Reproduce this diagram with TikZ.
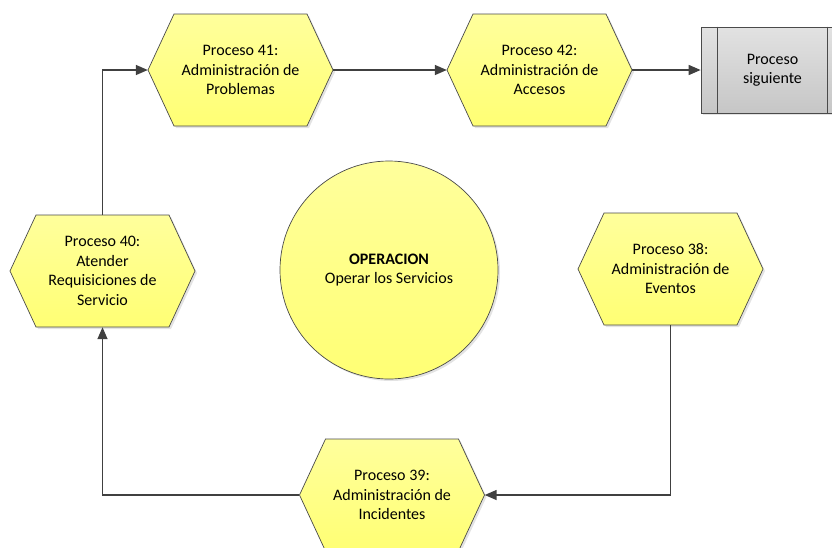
\documentclass[tikz,border=0pt]{standalone}
\usepackage{fontspec}
\setmainfont{Carlito}
\usetikzlibrary{arrows.meta,calc,shadows}

\definecolor{yeltop}{HTML}{FFFF9C}
\definecolor{yelbot}{HTML}{FFFF74}
\definecolor{shapeline}{HTML}{4A4A4A}
\definecolor{conn}{HTML}{404040}
\definecolor{greytop}{HTML}{E2E2E2}
\definecolor{greybot}{HTML}{C6C6C6}

\tikzset{
  softshadow/.style={drop shadow={opacity=0.22, shadow xshift=2pt, shadow yshift=-2pt}},
  hexbody/.style={top color=yeltop, bottom color=yelbot, draw=shapeline, line width=0.7pt, softshadow},
  proclabel/.style={align=center, font=\fontsize{16}{19.5}\selectfont,
    minimum width=185pt, minimum height=112pt, inner sep=0pt},
  opcircle/.style={circle, minimum size=218pt, inner sep=0pt, align=center,
    top color=yeltop, bottom color=yelbot, draw=shapeline, line width=0.7pt,
    font=\fontsize{16}{19.5}\selectfont, softshadow},
  nextbox/.style={rectangle, minimum width=143pt, minimum height=86pt, inner sep=0pt, align=center,
    top color=greytop, bottom color=greybot, draw=shapeline, line width=0.7pt,
    font=\fontsize{16}{19.5}\selectfont, softshadow},
  flow/.style={draw=conn, line width=1.5pt, -{Triangle[length=12pt,width=10pt]}},
}

% hexagonal process: name, centre x, centre y, label
\newcommand\hexproc[4]{%
  \path[hexbody] (#2-92.5,#3) -- ++(26,-56) -- ++(133,0) -- ++(26,56)
     -- ++(-26,56) -- ++(-133,0) -- cycle;
  \node[proclabel] (#1) at (#2,#3) {#4};
}

\begin{document}
\begin{tikzpicture}[x=1pt,y=-1pt]
  \useasboundingbox (0,0) rectangle (832,547);
  \clip (0,0) rectangle (832,547);

  \hexproc{p41}{240.5}{70}{Proceso 41:\\Administración de\\Problemas}
  \hexproc{p42}{539.5}{70}{Proceso 42:\\Administración de\\Accesos}
  \hexproc{p40}{102.5}{271}{Proceso 40:\\Atender\\Requisiciones de\\Servicio}
  \hexproc{p38}{670.5}{269}{Proceso 38:\\Administración de\\Eventos}
  \hexproc{p39}{392}{495}{Proceso 39:\\Administración de\\Incidentes}

  \node[opcircle] (op) at (389,270) {\textbf{OPERACION}\\Operar los Servicios};

  \node[nextbox] (next) at (772.5,70) {Proceso\\siguiente};
  \draw[shapeline, line width=0.7pt]
    ($(next.north west)+(17,0)$) -- ($(next.south west)+(17,0)$)
    ($(next.north east)+(-17,0)$) -- ($(next.south east)+(-17,0)$);

  \draw[flow] (p40.north) |- (p41.west);
  \draw[flow] (p41.east) -- (p42.west);
  \draw[flow] (p42.east) -- (next.west);
  \draw[flow] (p38.south) |- (p39.east);
  \draw[flow] (p39.west) -| (p40.south);
\end{tikzpicture}
\end{document}
